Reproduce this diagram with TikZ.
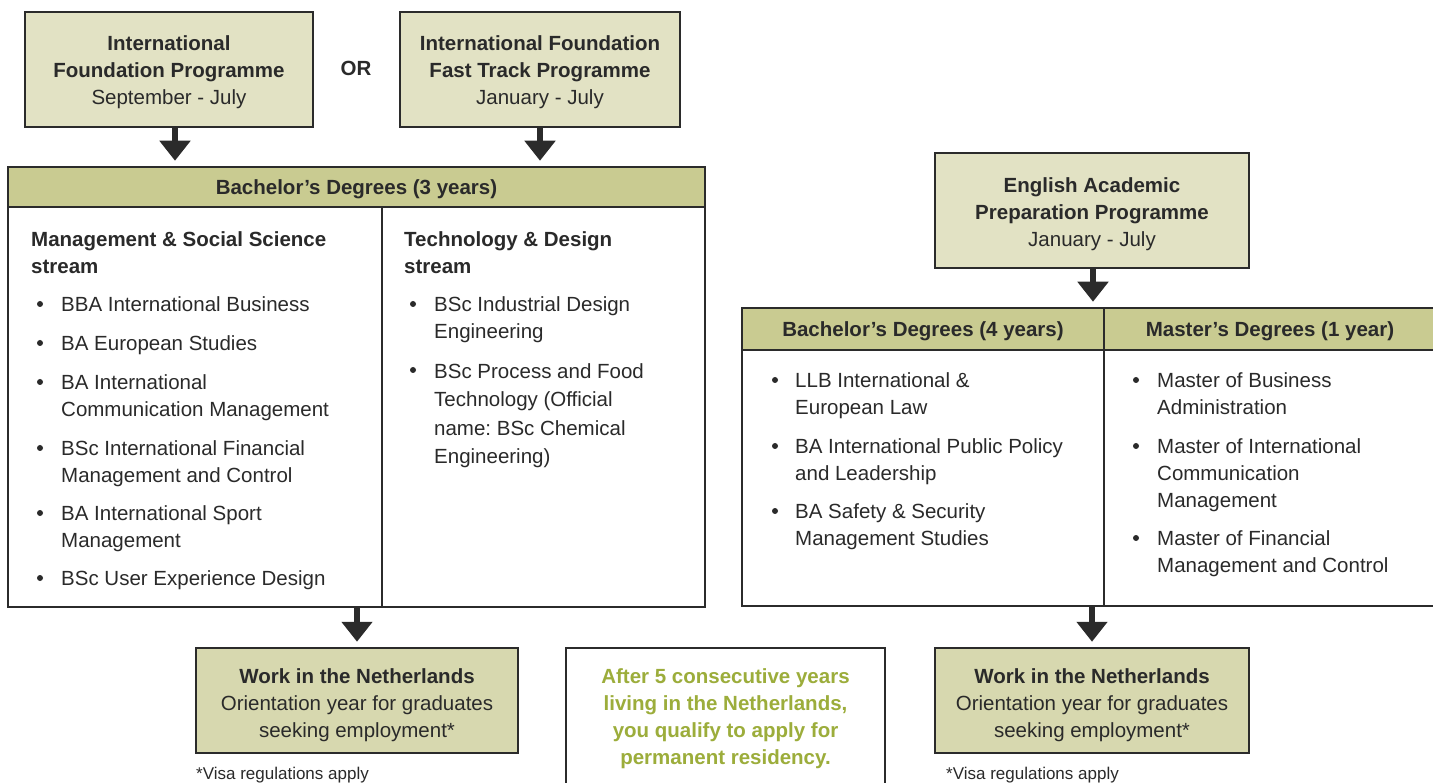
\documentclass[tikz,border=0pt]{standalone}
\usepackage{fontspec}
\setmainfont{Liberation Sans}
\usetikzlibrary{arrows.meta}
\definecolor{lightbox}{HTML}{E2E2C4}
\definecolor{workbox}{HTML}{D7D8AF}
\definecolor{headbox}{HTML}{C9CB91}
\definecolor{edgec}{HTML}{2B2B2B}
\definecolor{txt}{HTML}{2A2A2A}
\definecolor{greentxt}{HTML}{9CAD3B}
\newcommand{\lift}[1]{\rule{0pt}{#1}}
\frenchspacing
\begin{document}
\begin{tikzpicture}[x=1pt,y=-1pt,
  box/.style={draw=edgec, line width=2.5pt, inner sep=0pt, text=txt,
    font=\fontsize{20.5}{27}\selectfont, align=center},
  arr/.style={draw=edgec, line width=5.5pt, -{Triangle[width=30pt,length=20pt]}, shorten >=5pt},
  itm/.style={anchor=north west, inner sep=0pt, text=txt, align=left,
    font=\fontsize{20.5}{27}\selectfont},
  hd/.style={itm, font=\fontsize{20.5}{27}\selectfont\bfseries},
  bul/.style={circle, fill=txt, inner sep=0pt, minimum size=6pt},
  note/.style={anchor=base west, inner sep=0pt, text=txt, font=\fontsize{17}{20}\selectfont}
]
\useasboundingbox (0,0) rectangle (1433,783);
\fill[white] (0,0) rectangle (1433,783);

% top boxes
\node[box, fill=lightbox, minimum width=288pt, minimum height=115pt] (ifp) at (169,69.5)
  {\lift{21pt}\textbf{International}\\\textbf{Foundation Programme}\\September - July};
\node[box, fill=lightbox, minimum width=280pt, minimum height=115pt] (ift) at (540,69.5)
  {\lift{21pt}\textbf{International Foundation}\\\textbf{Fast Track Programme}\\January - July};
\node[inner sep=0pt, text=txt, font=\fontsize{20.5}{27}\selectfont\bfseries] (or) at (356,68) {OR};

% bachelor 3 years
\node[box, fill=headbox, minimum width=697pt, minimum height=40pt] (bh) at (356.5,187)
  {\lift{19pt}\textbf{Bachelor’s Degrees (3 years)}};
\node[box, fill=white, minimum width=374pt, minimum height=400pt] (bbl) at (195,407) {};
\node[box, fill=white, minimum width=323pt, minimum height=400pt] (bbr) at (543.5,407) {};

\draw[arr] ([xshift=6pt]ifp.south) -- ([xshift=6pt]ifp.south |- bh.north);
\draw[arr] (ift.south) -- (ift.south |- bh.north);

% left column
\node[hd] (h1) at (31,227) {\strut Management \& Social Science\\stream};
\node[itm] (l1) at (61,292) {\strut BBA International Business};
\node[itm] (l2) at (61,331) {\strut BA European Studies};
\node[itm] (l3) at (61,370) {\strut BA International\\Communication Management};
\node[itm] (l4) at (61,436) {\strut BSc International Financial\\Management and Control};
\node[itm] (l5) at (61,501) {\strut BA International Sport\\Management};
\node[itm] (l6) at (61,566) {\strut BSc User Experience Design};
\foreach \y [count=\i] in {304,343,382,448,513,578}
  \node[bul] (lb\i) at (40,\y) {};

% middle column
\node[hd] (h2) at (404,227) {\strut Technology \& Design\\stream};
\node[itm] (m1) at (434,292) {\strut BSc Industrial Design\\Engineering};
\node[itm, font=\fontsize{20.5}{28.5}\selectfont] (m2) at (434,358) {\strut BSc Process and Food\\Technology (Official\\name: BSc Chemical\\Engineering)};
\foreach \y [count=\i] in {304,370}
  \node[bul] (mb\i) at (413,\y) {};

% English academic preparation
\node[box, fill=lightbox, minimum width=314pt, minimum height=115pt] (eap) at (1092,210.5)
  {\lift{23pt}\textbf{English Academic}\\\textbf{Preparation Programme}\\January - July};
\node[box, fill=headbox, minimum width=362pt, minimum height=42pt] (rh4) at (923,329)
  {\lift{19pt}\textbf{Bachelor’s Degrees (4 years)}};
\node[box, fill=headbox, minimum width=332pt, minimum height=42pt] (rh1) at (1270,329)
  {\lift{19pt}\textbf{Master’s Degrees (1 year)}};
\node[box, fill=white, minimum width=362pt, minimum height=256pt] (rb4) at (923,478) {};
\node[box, fill=white, minimum width=332pt, minimum height=256pt] (rb1) at (1270,478) {};
\draw[arr] ([xshift=1pt]eap.south) -- ([xshift=1pt]eap.south |- rh4.north);

\node[itm] (r1) at (795,368) {\strut LLB International \&\\European Law};
\node[itm] (r2) at (795,434) {\strut BA International Public Policy\\and Leadership};
\node[itm] (r3) at (795,499) {\strut BA Safety \& Security\\Management Studies};
\foreach \y [count=\i] in {380,446,511}
  \node[bul] (rb\i) at (775,\y) {};

\node[itm] (s1) at (1157,368) {\strut Master of Business\\Administration};
\node[itm] (s2) at (1157,434) {\strut Master of International\\Communication\\Management};
\node[itm] (s3) at (1157,526) {\strut Master of Financial\\Management and Control};
\foreach \y [count=\i] in {380,446,538}
  \node[bul] (sb\i) at (1136,\y) {};

% bottom boxes
\node[box, fill=workbox, minimum width=322pt, minimum height=105pt] (wl) at (357,700.5)
  {\lift{25pt}\textbf{Work in the Netherlands}\\Orientation year for graduates\\seeking employment*};
\node[box, fill=workbox, minimum width=314pt, minimum height=105pt] (wr) at (1092,700.5)
  {\lift{25pt}\textbf{Work in the Netherlands}\\Orientation year for graduates\\seeking employment*};
\node[box, fill=white, minimum width=319pt, minimum height=140pt, text=greentxt] (perm) at (725.5,718)
  {\lift{17pt}\textbf{After 5 consecutive years}\\\textbf{living in the Netherlands,}\\\textbf{you qualify to apply for}\\\textbf{permanent residency.}};

\draw[arr] (bbl.south -| wl.north) -- (wl.north);
\draw[arr] (rb4.south -| wr.north) -- (wr.north);

\node[note] (n1) at (196,779) {*Visa regulations apply};
\node[note] (n2) at (946,779) {*Visa regulations apply};
\end{tikzpicture}
\end{document}
